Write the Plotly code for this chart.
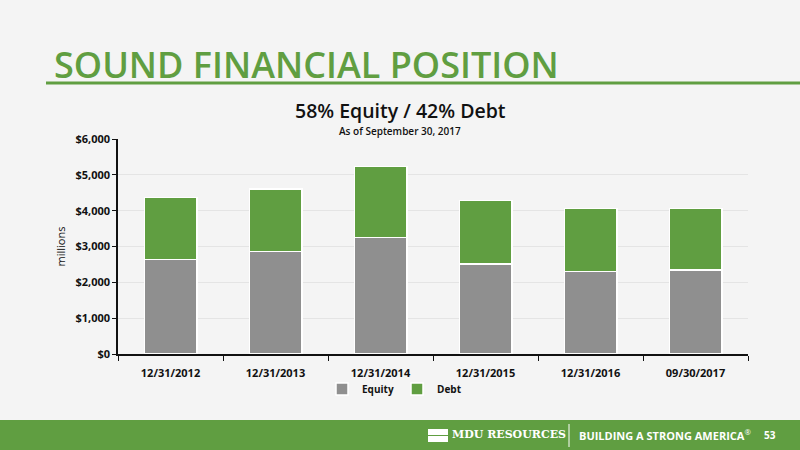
import plotly.graph_objects as go

categories = ["12/31/2012", "12/31/2013", "12/31/2014", "12/31/2015", "12/31/2016", "09/30/2017"]
equity = [2643, 2855, 3246, 2512, 2308, 2344]
debt = [1730, 1750, 1992, 1767, 1758, 1712]
ytickvals = [0, 1000, 2000, 3000, 4000, 5000, 6000]
yticktext = ["$0", "$1,000", "$2,000", "$3,000", "$4,000", "$5,000", "$6,000"]

GREEN = "#609e41"
GRAY = "#8f8f8f"
BG = "#f4f4f4"
FONT = "Open Sans"

fig = go.Figure()
fig.add_bar(x=categories, y=equity, name="<b>Equity</b>", marker=dict(color=GRAY, line=dict(color="white", width=1.5)))
fig.add_bar(x=categories, y=debt, name="<b>Debt</b>", marker=dict(color=GREEN, line=dict(color="white", width=1.5)))

W, H = 800, 450
L, R, T, B = 118, 52, 139, 96
pw, ph = W - L - R, H - T - B

def px(x):
    return (x - L) / pw

def py(y):
    return (H - B - y) / ph

shapes = [
    dict(type="rect", xref="paper", yref="paper", x0=px(0), x1=px(800), y0=py(450), y1=py(420),
         fillcolor=GREEN, line=dict(width=0), layer="below"),
    dict(type="line", xref="paper", yref="paper", x0=px(46), x1=px(800), y0=py(83), y1=py(83),
         line=dict(color=GREEN, width=3)),
    dict(type="line", xref="paper", yref="paper", x0=px(569), x1=px(569), y0=py(424), y1=py(447),
         line=dict(color="white", width=1)),
    dict(type="rect", xref="paper", yref="paper", x0=px(428), x1=px(448), y0=py(435), y1=py(429),
         fillcolor="white", line=dict(width=0)),
    dict(type="rect", xref="paper", yref="paper", x0=px(428), x1=px(448), y0=py(442), y1=py(436),
         fillcolor="white", line=dict(width=0)),
]

annotations = [
    dict(text="SOUND FINANCIAL POSITION", x=px(52), y=py(65), xref="paper", yref="paper",
         xanchor="left", yanchor="middle", showarrow=False,
         font=dict(family=FONT, size=36, color=GREEN, weight=600)),
    dict(text="58% Equity / 42% Debt", x=px(400), y=py(111), xref="paper", yref="paper",
         xanchor="center", yanchor="middle", showarrow=False,
         font=dict(family=FONT, size=19.5, color="#111111", weight=600)),
    dict(text="As of September 30, 2017", x=px(400), y=py(131), xref="paper", yref="paper",
         xanchor="center", yanchor="middle", showarrow=False,
         font=dict(family=FONT, size=10, color="#111111", weight=600)),
    dict(text="<b>MDU RESOURCES</b>", x=px(450), y=py(434), xref="paper", yref="paper",
         xanchor="left", yanchor="middle", showarrow=False,
         font=dict(family="DejaVu Serif", size=11, color="white")),
    dict(text="<b>BUILDING A STRONG AMERICA</b><sup>®</sup>", x=px(577), y=py(435), xref="paper", yref="paper",
         xanchor="left", yanchor="middle", showarrow=False,
         font=dict(family=FONT, size=11, color="white")),
    dict(text="<b>53</b>", x=px(762), y=py(435), xref="paper", yref="paper",
         xanchor="left", yanchor="middle", showarrow=False,
         font=dict(family=FONT, size=10, color="white")),
]

fig.update_layout(
    width=W, height=H,
    margin=dict(l=L, r=R, t=T, b=B),
    paper_bgcolor=BG, plot_bgcolor=BG,
    barmode="stack", bargap=0.5,
    font=dict(family=FONT, color="#111111"),
    shapes=shapes, annotations=annotations,
    legend=dict(orientation="h", x=px(397), xanchor="center", y=py(389), yanchor="middle",
                traceorder="normal", entrywidth=30, entrywidthmode="pixels",
                font=dict(family=FONT, size=10), bgcolor="rgba(0,0,0,0)"),
    showlegend=True,
)
fig.update_yaxes(range=[0, 6000], tickvals=ytickvals, ticktext=yticktext,
                 showline=True, linecolor="#111111", linewidth=1.5,
                 ticks="outside", ticklen=4, tickcolor="#111111",
                 gridcolor="#e4e4e4", gridwidth=1, zeroline=False,
                 tickfont=dict(family=FONT, size=11, color="#111111", weight="bold"),
                 title=dict(text="millions", font=dict(family=FONT, size=11), standoff=8))
fig.update_xaxes(showline=True, linecolor="#111111", linewidth=1.5,
                 ticks="outside", ticklen=5, tickcolor="#111111", tickson="boundaries",
                 ticklabelstandoff=8,
                 tickfont=dict(family=FONT, size=11, color="#111111", weight="bold"))

fig.write_html("out.html", config={"displayModeBar": False},
               post_script="document.body.style.margin='0';document.body.style.background='%s';" % BG)
